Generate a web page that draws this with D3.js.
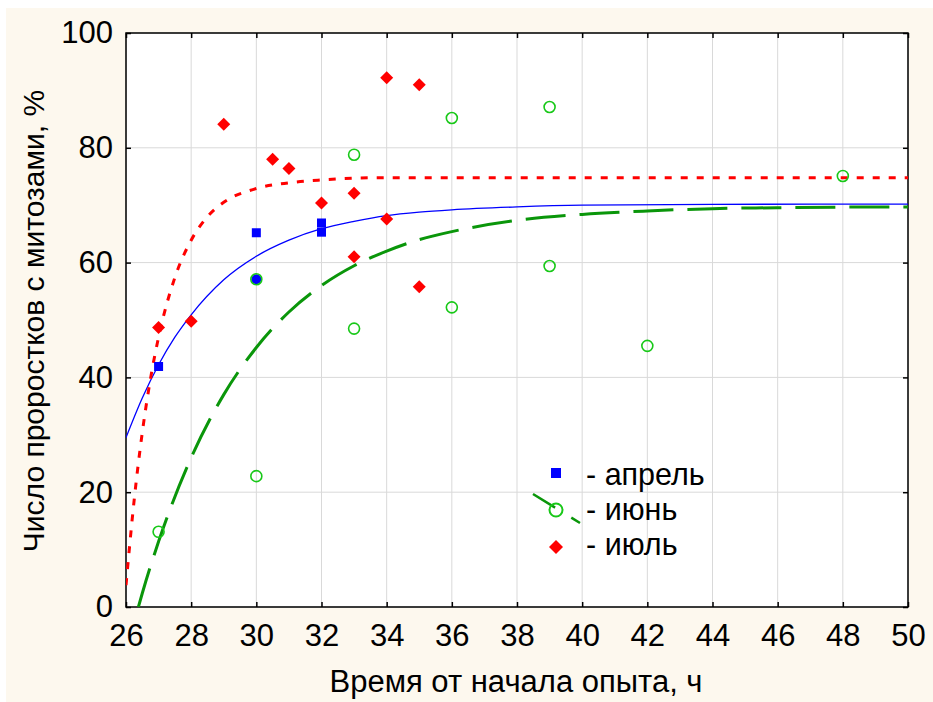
<!DOCTYPE html>
<html><head><meta charset="utf-8">
<script src="https://cdn.jsdelivr.net/npm/d3@7"></script>
<style>body{margin:0;background:#fff;} text{font-family:"Liberation Sans",Arial,sans-serif;fill:#000;}</style>
</head><body>
<svg id="c" width="933" height="702"></svg>
<script>
// Data (hours since start, % seedlings with mitoses)
const aprilX = [27, 30, 30, 32, 32];
const aprilY = [41.9, 65.2, 57.1, 65.3, 66.9];
const juneX = [27, 30, 30, 33, 33, 36, 36, 39, 39, 42, 48];
const juneY = [13.1, 57.1, 22.8, 78.8, 48.5, 85.2, 52.2, 87.1, 59.4, 45.5, 75.1];
const julyX = [27, 28, 29, 30.5, 31, 32, 33, 33, 34, 34, 35, 35];
const julyY = [48.7, 49.8, 84.1, 78.0, 76.4, 70.4, 72.1, 61.0, 92.2, 67.6, 91.0, 55.8];
// fitted curves
const aprilFitX = [26, 26.5, 27, 27.5, 28, 29, 30, 31, 32, 33, 34, 35, 36, 38, 40, 44, 50];
const aprilFitY = [29.5, 36.4, 42.2, 47.0, 50.9, 57.0, 61.1, 63.9, 65.9, 67.2, 68.2, 68.8, 69.2, 69.7, 70.0, 70.15, 70.2];
const juneFitX = [26.38, 26.5, 27, 28, 29, 30, 31, 32, 33, 34, 35, 36, 38, 40, 42, 44, 46, 48, 50];
const juneFitY = [0, 2.4, 11.4, 26.0, 37.0, 45.2, 51.4, 56.0, 59.45, 62.0, 64.0, 65.4, 67.35, 68.4, 69.0, 69.4, 69.56, 69.66, 69.7];
const julyFitX = [26, 26.25, 26.5, 26.75, 27, 27.5, 28, 28.5, 29, 30, 31, 32, 34, 50];
const julyFitY = [3.8, 18.6, 30.4, 39.7, 47.0, 57.4, 63.9, 68.0, 70.5, 72.9, 73.9, 74.4, 74.8, 74.8];
const xTicks = [26, 28, 30, 32, 34, 36, 38, 40, 42, 44, 46, 48, 50];
const yTicks = [0, 20, 40, 60, 80, 100];
const legendLabels = ["- апрель", "- июнь", "- июль"];
const xTitle = "Время от начала опыта, ч";
const yTitle = "Число проростков с митозами,  %";

const svg = d3.select("#c");
svg.append("rect").attr("x", 6).attr("y", 8).attr("width", 927).attr("height", 694).attr("fill", "#fdf8ee");

const L = 126, T = 33, R = 908, B = 607;
const x = d3.scaleLinear().domain([26, 50]).range([L, R]);
const y = d3.scaleLinear().domain([0, 100]).range([B, T]);

svg.append("rect").attr("x", L).attr("y", T).attr("width", R - L).attr("height", B - T).attr("fill", "#fff");

// grid
const g = svg.append("g");
g.selectAll("line.gx").data(xTicks).join("line")
  .attr("x1", d => x(d)).attr("x2", d => x(d)).attr("y1", T).attr("y2", B)
  .attr("stroke", "#d9d9d9").attr("stroke-width", 1);
g.selectAll("line.gy").data(yTicks).join("line")
  .attr("y1", d => y(d)).attr("y2", d => y(d)).attr("x1", L).attr("x2", R)
  .attr("stroke", "#d9d9d9").attr("stroke-width", 1);

// axes (inner ticks)
const fs = 31;
const ax = svg.append("g").attr("transform", `translate(0,${B})`)
  .call(d3.axisBottom(x).tickValues(xTicks).tickSize(-5).tickPadding(17).tickFormat(d3.format("d")));
const axT = svg.append("g").attr("transform", `translate(0,${T})`)
  .call(d3.axisTop(x).tickValues(xTicks).tickSize(-5).tickFormat(""));
const ay = svg.append("g").attr("transform", `translate(${L},0)`)
  .call(d3.axisLeft(y).tickValues(yTicks).tickSize(-5).tickPadding(13).tickFormat(d3.format("d")));
const ayR = svg.append("g").attr("transform", `translate(${R},0)`)
  .call(d3.axisRight(y).tickValues(yTicks).tickSize(-5).tickFormat(""));
[ax, axT, ay, ayR].forEach(a => {
  a.select(".domain").remove();
  a.selectAll(".tick line").attr("stroke", "#000").attr("stroke-width", 1.5);
  a.selectAll("text").style("font-size", fs + "px").style("font-family", "Liberation Sans, Arial, sans-serif").attr("fill", "#000");
});
svg.append("rect").attr("x", L).attr("y", T).attr("width", R - L).attr("height", B - T)
  .attr("fill", "none").attr("stroke", "#000").attr("stroke-width", 1.5);

// clip
svg.append("clipPath").attr("id", "clip").append("rect").attr("x", L).attr("y", T).attr("width", R - L).attr("height", B - T);
const plot = svg.append("g").attr("clip-path", "url(#clip)");

const line = d3.line().x(d => x(d[0])).y(d => y(d[1])).curve(d3.curveMonotoneX);
const zip = (a, b) => a.map((v, i) => [v, b[i]]);

plot.append("path").datum(zip(juneFitX, juneFitY)).attr("d", line)
  .attr("fill", "none").attr("stroke", "#0a960a").attr("stroke-width", 3).attr("stroke-dasharray", "40 14");
plot.append("path").datum(zip(aprilFitX, aprilFitY)).attr("d", line)
  .attr("fill", "none").attr("stroke", "#0000ff").attr("stroke-width", 1.3);
plot.append("path").datum(zip(julyFitX, julyFitY)).attr("d", line)
  .attr("fill", "none").attr("stroke", "#ff0000").attr("stroke-width", 3).attr("stroke-dasharray", "7 9");

// markers
const diamond = s => `M0,${-s}L${s},0L0,${s}L${-s},0Z`;
const april = zip(aprilX, aprilY);
const june = zip(juneX, juneY);
const july = zip(julyX, julyY);
const coincides = d => june.some(j => j[0] === d[0] && j[1] === d[1]);

svg.selectAll("path.jul").data(july).join("path")
  .attr("transform", d => `translate(${x(d[0])},${y(d[1])})`)
  .attr("d", diamond(6.5)).attr("fill", "#ff0000");
svg.selectAll("rect.apr").data(april.filter(d => !coincides(d))).join("rect")
  .attr("x", d => x(d[0]) - 4.5).attr("y", d => y(d[1]) - 4.5).attr("width", 9).attr("height", 9).attr("fill", "#0000ff");
svg.selectAll("circle.apr").data(april.filter(coincides)).join("circle")
  .attr("cx", d => x(d[0])).attr("cy", d => y(d[1])).attr("r", 5).attr("fill", "#0000ff");
svg.selectAll("circle.jun").data(june).join("circle")
  .attr("cx", d => x(d[0])).attr("cy", d => y(d[1])).attr("r", 5.5)
  .attr("fill", "none").attr("stroke", "#18c818").attr("stroke-width", 1.6);

// legend
const lx = 556, ly = [473, 510, 547], lb = [485, 520, 555], tx = 586;
svg.append("rect").attr("x", lx - 5).attr("y", ly[0] - 5).attr("width", 10).attr("height", 10).attr("fill", "#0000ff");
svg.append("line").attr("x1", 533).attr("y1", 494).attr("x2", 580).attr("y2", 523)
  .attr("stroke", "#0a960a").attr("stroke-width", 2.5).attr("stroke-dasharray", "26 19 12");
svg.append("circle").attr("cx", lx).attr("cy", ly[1]).attr("r", 6.5).attr("fill", "none").attr("stroke", "#18c818").attr("stroke-width", 2);
svg.append("path").attr("transform", `translate(${lx},${ly[2]})`).attr("d", diamond(7)).attr("fill", "#ff0000");
svg.selectAll("text.leg").data(legendLabels).join("text")
  .attr("x", tx).attr("y", (d, i) => lb[i]).style("font-size", "30.5px").text(d => d);

// titles
svg.append("text").attr("x", 516).attr("y", 692).attr("text-anchor", "middle")
  .style("font-size", "31px").text(xTitle);
svg.append("text").attr("transform", `translate(44,321) rotate(-90)`).attr("text-anchor", "middle")
  .style("font-size", "30px").text(yTitle);
</script>
</body></html>
